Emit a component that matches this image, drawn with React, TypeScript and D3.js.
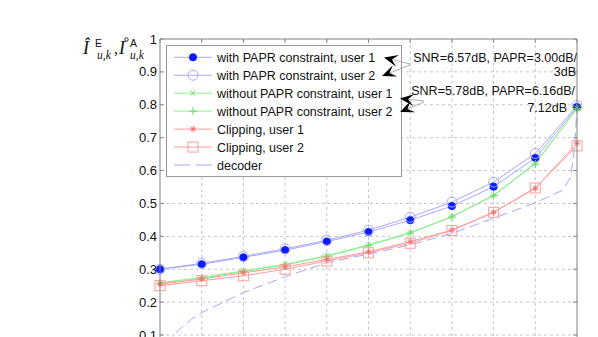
import React from "react";
import * as d3 from "d3";

const xValues = [0, 0.1, 0.2, 0.3, 0.4, 0.5, 0.6, 0.7, 0.8, 0.9, 1.0];
const withPaprUser1 = [0.300, 0.315, 0.336, 0.358, 0.384, 0.413, 0.449, 0.492, 0.551, 0.638, 0.793];
const withPaprUser2 = [0.300, 0.318, 0.339, 0.362, 0.388, 0.419, 0.458, 0.504, 0.565, 0.652, 0.797];
const withoutPaprUser1 = [0.259, 0.275, 0.295, 0.315, 0.341, 0.374, 0.411, 0.460, 0.525, 0.622, 0.790];
const withoutPaprUser2 = [0.257, 0.273, 0.293, 0.313, 0.339, 0.372, 0.410, 0.459, 0.524, 0.620, 0.789];
const clippingUser1 = [0.255, 0.270, 0.289, 0.307, 0.330, 0.353, 0.384, 0.419, 0.473, 0.546, 0.683];
const clippingUser2 = [0.250, 0.265, 0.280, 0.300, 0.325, 0.350, 0.379, 0.418, 0.473, 0.547, 0.675];
const decoderX = [0.0, 0.036, 0.075, 0.1, 0.2, 0.3, 0.4, 0.5, 0.6, 0.7, 0.8, 0.9, 0.965, 0.985, 0.995, 1.0];
const decoderY = [0.03, 0.105, 0.148, 0.168, 0.229, 0.277, 0.320, 0.346, 0.374, 0.409, 0.455, 0.502, 0.540, 0.580, 0.680, 0.800];
const yTicks = [0.1, 0.2, 0.3, 0.4, 0.5, 0.6, 0.7, 0.8, 0.9, 1];
const xTicks = [0, 0.1, 0.2, 0.3, 0.4, 0.5, 0.6, 0.7, 0.8, 0.9, 1.0];
const legendLabels = [
  "with PAPR constraint, user 1",
  "with PAPR constraint, user 2",
  "without PAPR constraint, user 1",
  "without PAPR constraint, user 2",
  "Clipping, user 1",
  "Clipping, user 2",
  "decoder",
];
const annotation1 = ["SNR=6.57dB, PAPR=3.00dB/", "3dB"];
const annotation2 = ["SNR=5.78dB, PAPR=6.16dB/", "7.12dB"];

const W = 598;
const H = 337;
const L = 160, R = 577, T = 39;
const x = d3.scaleLinear().domain([0, 1]).range([L, R]);
const y = d3.scaleLinear().domain([0.1, 1]).range([335, T]);
const B = y(0);

const BLUE_L = "#a8a8ff";
const GREEN_L = "#8cf08c";
const RED_L = "#ff9c9c";
const FONT = "'Liberation Sans', Arial, Helvetica, sans-serif";
const SERIF = "'Liberation Serif', 'Times New Roman', serif";

type MarkerKind = "dot" | "circle" | "x" | "plus" | "star" | "square" | "none";

function markerColor(kind: MarkerKind, fallback: string) {
  if (kind === "x" || kind === "plus") return "#66dd66";
  if (kind === "star") return "#ff6b6b";
  return fallback;
}

function Marker({ kind, cx, cy, color }: { kind: MarkerKind; cx: number; cy: number; color: string }) {
  switch (kind) {
    case "dot":
      return <circle cx={cx} cy={cy} r={3.8} fill="#0a1cff" stroke="#0a1cff" strokeWidth={0.5} />;
    case "circle":
      return <circle cx={cx} cy={cy} r={5} fill="none" stroke={color} strokeWidth={1} />;
    case "x":
      return (
        <path d={`M${cx - 2.5},${cy - 2.5}L${cx + 2.5},${cy + 2.5}M${cx - 2.5},${cy + 2.5}L${cx + 2.5},${cy - 2.5}`} stroke={color} strokeWidth={1} />
      );
    case "plus":
      return <path d={`M${cx - 4},${cy}L${cx + 4},${cy}M${cx},${cy - 4}L${cx},${cy + 4}`} stroke={color} strokeWidth={1} />;
    case "star":
      return (
        <path
          d={`M${cx - 3},${cy}L${cx + 3},${cy}M${cx},${cy - 3}L${cx},${cy + 3}M${cx - 2.2},${cy - 2.2}L${cx + 2.2},${cy + 2.2}M${cx - 2.2},${cy + 2.2}L${cx + 2.2},${cy - 2.2}`}
          stroke={color}
          strokeWidth={1}
        />
      );
    case "square":
      return <rect x={cx - 5} y={cy - 5} width={10} height={10} fill="none" stroke={color} strokeWidth={1} />;
    default:
      return null;
  }
}

function Arrow({ fx, fy, tx, ty }: { fx: number; fy: number; tx: number; ty: number }) {
  const ang = Math.atan2(ty - fy, tx - fx);
  const len = 14, wid = 6, notch = 8;
  const cos = Math.cos(ang), sin = Math.sin(ang);
  const pt = (a: number, b: number) => `${tx + a * cos - b * sin},${ty + a * sin + b * cos}`;
  return (
    <g>
      <line x1={fx} y1={fy} x2={tx - notch * cos} y2={ty - notch * sin} stroke="#999" strokeWidth={0.8} />
      <polygon points={`${tx},${ty} ${pt(-len, wid)} ${pt(-notch, 0)} ${pt(-len, -wid)}`} fill="#000" />
    </g>
  );
}

export default function App() {
  const series = [
    { vals: withPaprUser1, color: BLUE_L, marker: "dot" as MarkerKind },
    { vals: withPaprUser2, color: BLUE_L, marker: "circle" as MarkerKind },
    { vals: withoutPaprUser1, color: GREEN_L, marker: "x" as MarkerKind },
    { vals: withoutPaprUser2, color: GREEN_L, marker: "plus" as MarkerKind },
    { vals: clippingUser1, color: RED_L, marker: "star" as MarkerKind },
    { vals: clippingUser2, color: RED_L, marker: "square" as MarkerKind },
  ];
  const lineGen = d3
    .line<number>()
    .x((_, i) => x(xValues[i]))
    .y((d) => y(d));
  const decLine = d3
    .line<number>()
    .x((_, i) => x(decoderX[i]))
    .y((d) => y(d));

  const legendX = 166.5, legendY = 45.5, legendW = 235, legendH = 131;
  const rowY = (i: number) => 57.3 + i * 17.95;

  return (
    <svg width={W} height={H} style={{ position: "absolute", left: 0, top: 0, background: "#fff" }} fontFamily={FONT}>
      <defs>
        <clipPath id="plotclip">
          <rect x={L} y={T} width={R - L} height={B - T} />
        </clipPath>
      </defs>
      <rect x={0} y={0} width={W} height={H} fill="#fff" />
      {/* grid */}
      <g stroke="#b8b8b8" strokeWidth={0.8} strokeDasharray="3,3">
        {xTicks.slice(1, -1).map((t) => (
          <line key={"gx" + t} x1={x(t)} x2={x(t)} y1={T} y2={B} />
        ))}
        {yTicks.slice(0, -1).map((t) => (
          <line key={"gy" + t} x1={L} x2={R} y1={y(t)} y2={y(t)} />
        ))}
      </g>
      {/* ticks */}
      <g stroke="#777" strokeWidth={0.8}>
        {yTicks.map((t) => (
          <g key={"ty" + t}>
            <line x1={L} x2={L + 4} y1={y(t)} y2={y(t)} />
            <line x1={R} x2={R - 4} y1={y(t)} y2={y(t)} />
          </g>
        ))}
        {xTicks.map((t) => (
          <line key={"tx" + t} x1={x(t)} x2={x(t)} y1={T} y2={T + 4} />
        ))}
      </g>
      {/* data */}
      <g clipPath="url(#plotclip)">
        <path d={decLine(decoderY) || ""} fill="none" stroke={BLUE_L} strokeWidth={1} strokeDasharray="10,5" />
        {series.map((s, si) => (
          <path key={"l" + si} d={lineGen(s.vals) || ""} fill="none" stroke={s.color} strokeWidth={1} />
        ))}
      </g>
      <g>
        {series.map((s, si) =>
          s.vals.map((v, i) => (
            <Marker key={"m" + si + "-" + i} kind={s.marker} cx={x(xValues[i])} cy={y(v)} color={markerColor(s.marker, s.color)} />
          ))
        )}
      </g>
      {/* frame */}
      <g stroke="#808080" strokeWidth={1} fill="none">
        <line x1={L} x2={L} y1={T} y2={H + 40} />
        <line x1={R} x2={R} y1={T} y2={H + 40} />
        <line x1={L} x2={R} y1={T} y2={T} />
      </g>
      {/* y tick labels */}
      <g fontSize={13} fill="#111" textAnchor="end">
        {yTicks.map((t) => (
          <text key={"yl" + t} x={L - 3} y={y(t) + 4.5}>
            {d3.format("~g")(t)}
          </text>
        ))}
      </g>
      {/* y-axis label */}
      <g fill="#111">
        <text x={83} y={54} fontFamily={SERIF} fontStyle="italic" fontSize={18}>Î</text>
        <text x={95} y={47} fontSize={10.5}>E</text>
        <text x={97} y={59} fontFamily={SERIF} fontStyle="italic" fontSize={11.5}>u,k</text>
        <text x={114} y={54} fontFamily={SERIF} fontSize={16}>,</text>
        <text x={119} y={54} fontFamily={SERIF} fontStyle="italic" fontSize={18}>I</text>
        <circle cx={126.5} cy={39.5} r={1.7} fill="none" stroke="#111" strokeWidth={0.9} />
        <text x={130} y={47} fontSize={10.5}>A</text>
        <text x={130} y={59} fontFamily={SERIF} fontStyle="italic" fontSize={11.5}>u,k</text>
      </g>
      {/* legend */}
      <rect x={legendX} y={legendY} width={legendW} height={legendH} fill="#fff" stroke="#999" strokeWidth={1} />
      {legendLabels.map((lab, i) => {
        const cy = rowY(i);
        const s = series[i];
        const isDec = i === 6;
        return (
          <g key={"lg" + i}>
            <line x1={174} x2={212} y1={cy} y2={cy} stroke={isDec ? BLUE_L : s.color} strokeWidth={1} strokeDasharray={isDec ? "16,6" : undefined} />
            {!isDec && <Marker kind={s.marker} cx={193} cy={cy} color={markerColor(s.marker, s.color)} />}
            <text x={217} y={cy + 4.5} fontSize={12.5} fill="#111">
              {lab}
            </text>
          </g>
        );
      })}
      {/* annotations */}
      <Arrow fx={410} fy={64} tx={384} ty={57.5} />
      <Arrow fx={410} fy={65} tx={382} ty={76} />
      <Arrow fx={424} fy={101} tx={400} ty={98.5} />
      <Arrow fx={424} fy={102} tx={400} ty={112} />
      <g fontSize={12.5} fill="#111" textAnchor="end">
        <text x={577} y={61.7}>{annotation1[0]}</text>
        <text x={576} y={75.7}>{annotation1[1]}</text>
        <text x={575} y={95}>{annotation2[0]}</text>
        <text x={567} y={111.5}>{annotation2[1]}</text>
      </g>
    </svg>
  );
}
